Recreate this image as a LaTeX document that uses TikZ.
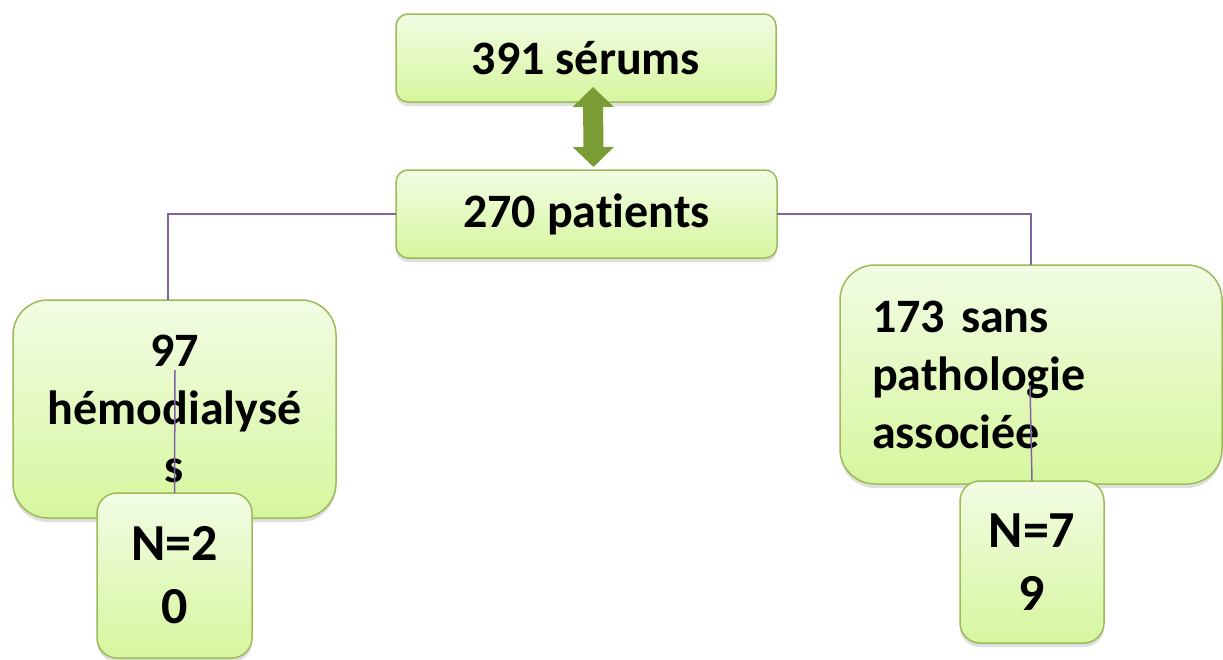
\documentclass[tikz,border=0pt]{standalone}
\usepackage{fontspec}
\setmainfont{Carlito}[Ligatures=CommonOff]
\usetikzlibrary{arrows.meta,shadows}

\definecolor{boxtop}{RGB}{242,252,228}
\definecolor{boxbot}{RGB}{214,246,158}
\definecolor{boxline}{RGB}{155,187,89}
\definecolor{linkpurple}{RGB}{128,100,162}
\definecolor{arrowgreen}{RGB}{122,156,52}

\tikzset{
  card/.style={draw=boxline, line width=1.5pt, top color=boxtop, bottom color=boxbot,
    rounded corners=12pt, drop shadow={opacity=0.25,shadow xshift=0pt,shadow yshift=-4pt},
    font=\fontsize{48}{58}\selectfont\bfseries, align=center, inner sep=0pt, outer sep=0pt},
  bigcard/.style={card, rounded corners=35pt},
  smallcard/.style={card, rounded corners=20pt, font=\fontsize{52}{63}\selectfont\bfseries},
  branch/.style={draw=linkpurple, line width=1.5pt},
}

\begin{document}
\begin{tikzpicture}[x=1pt,y=-1pt]
\useasboundingbox (0,0) rectangle (1223,659);
% top of the tree
\node[card, minimum width=380pt, minimum height=88pt](s391) at (586,58){391 sérums};
\node[card, minimum width=381pt, minimum height=88pt](p270) at (586.5,214){270 patients};
\draw[arrowgreen, line width=20pt, {Triangle[width=40pt,length=20pt]}-{Triangle[width=40pt,length=20pt]}]
  ([xshift=7pt,yshift=15pt]s391.south) -- ([xshift=7pt,yshift=3pt]p270.north);
% two groups
\node[bigcard, minimum width=323pt, minimum height=218pt](h97) at (174.5,409){97\\hémodialysé\\s};
\node[bigcard, minimum width=382pt, minimum height=219pt, text width=318pt, align=left](sp173) at (1031,374.5){173 sans\\pathologie\\associée};
\node[smallcard, minimum width=155pt, minimum height=165pt](n20) at (174.5,575.5){N=2\\0};
\node[smallcard, minimum width=144pt, minimum height=162pt](n79) at (1032,562){N=7\\9};
\coordinate (h97in) at (175,370);
\coordinate (sp173in) at (1030,385);
% branches
\draw[branch] (p270.west) -| ([xshift=-6.5pt]h97.north);
\draw[branch] (p270.east) -| (sp173.north);
\draw[branch] (h97in) -- (n20.north);
\draw[branch] (sp173in) -- (n79.north);
\end{tikzpicture}
\end{document}
